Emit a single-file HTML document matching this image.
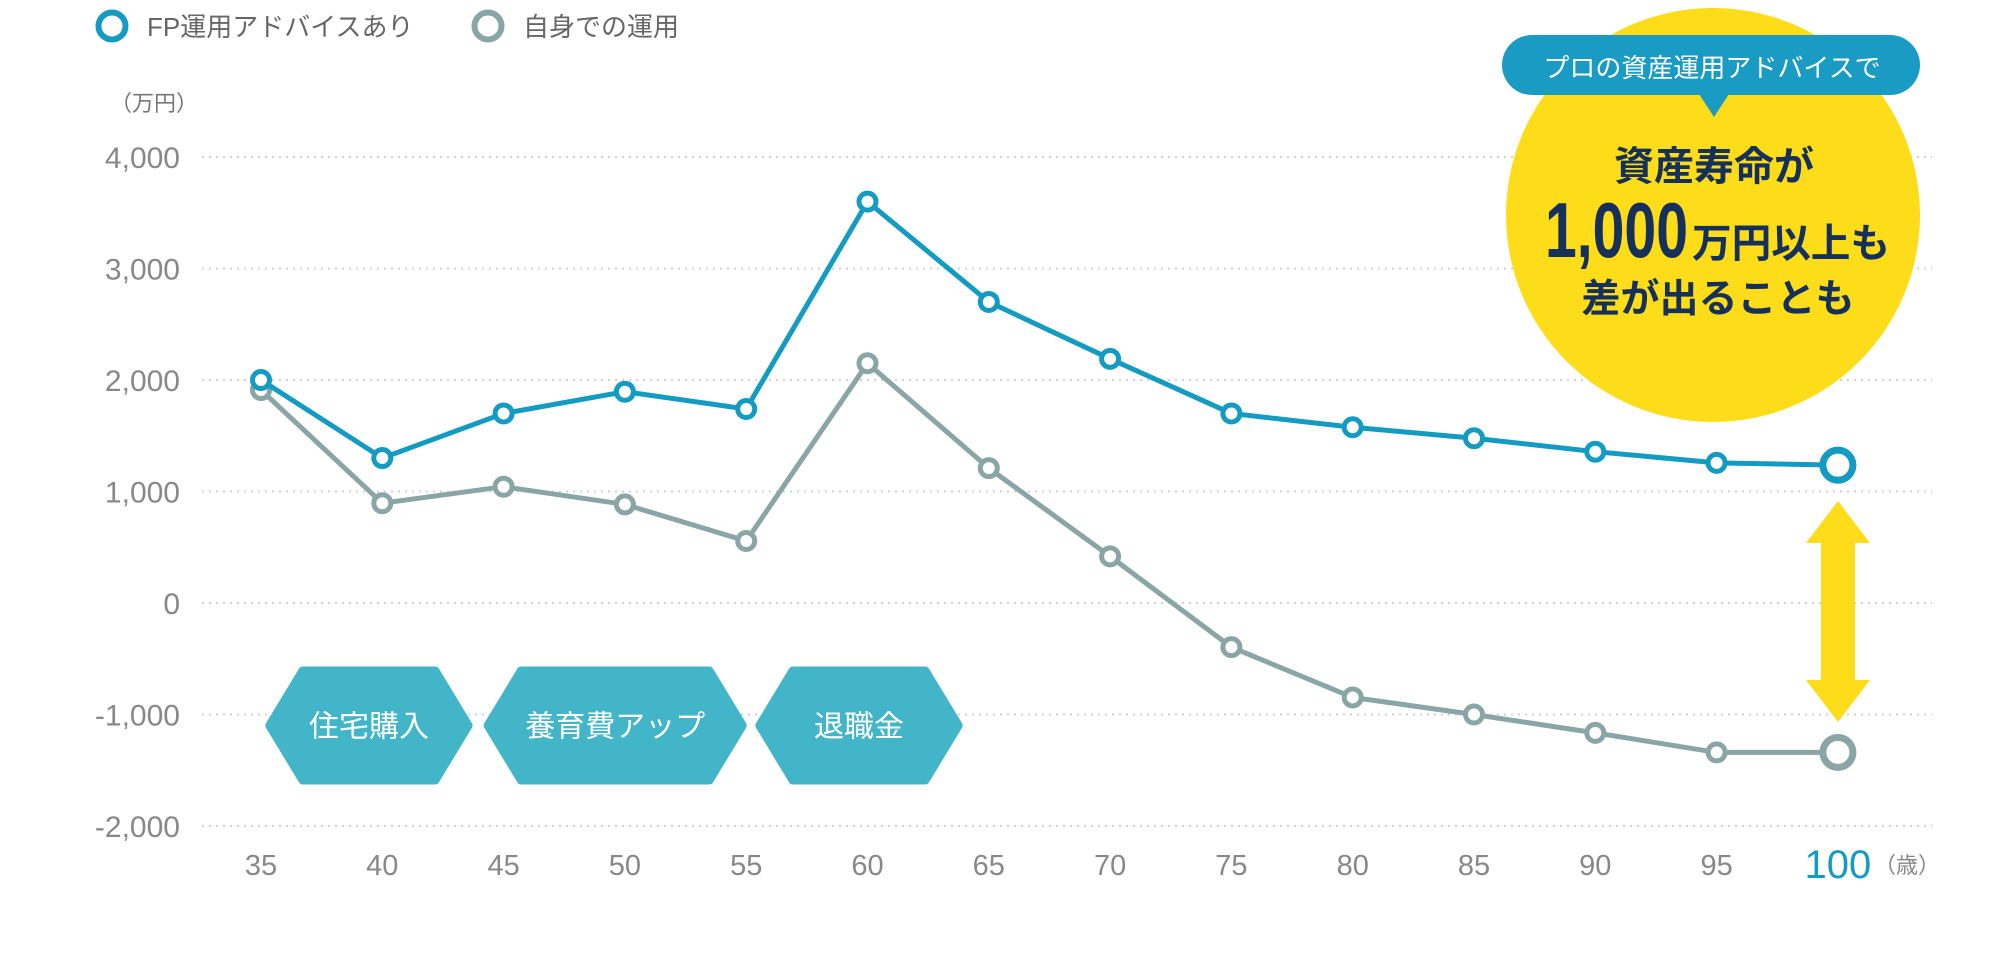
<!DOCTYPE html>
<html><head><meta charset="utf-8">
<style>
html,body{margin:0;padding:0;background:#fff;}
body{width:2015px;height:964px;overflow:hidden;font-family:"Liberation Sans","Noto Sans CJK JP",sans-serif;}
</style></head>
<body>
<svg id="chart" width="2015" height="964" viewBox="0 0 2015 964" xmlns="http://www.w3.org/2000/svg" style="font-family:'Liberation Sans','Noto Sans CJK JP',sans-serif">
<g id="legend">
  <g>
    <circle cx="112" cy="26" r="13.5" fill="#fff" stroke="#139bc2" stroke-width="6"/>
    <text x="147" y="36" font-size="26" fill="#666">FP運用アドバイスあり</text>
  </g>
  <g>
    <circle cx="488" cy="26" r="13.5" fill="#fff" stroke="#8aa5a5" stroke-width="6"/>
    <text x="523" y="36" font-size="26" fill="#666">自身での運用</text>
  </g>
</g>
<text x="110" y="111" font-size="22" fill="#777">（万円）</text>
<g id="grid"></g>
<g id="yticks"></g>
<g id="xticks"></g>
<g id="tags"></g>
<g id="callout">
  <circle cx="1713" cy="215" r="207" fill="#fddc1a"/>
  <rect x="1502" y="35" width="418" height="60" rx="30" fill="#1a9bc4"/>
  <polygon points="1699,94 1729,94 1714,117" fill="#1a9bc4"/>
  <text x="1712" y="77" font-size="26" fill="#fff" text-anchor="middle">プロの資産運用アドバイスで</text>
  <text x="1714" y="180" font-size="40" font-weight="bold" fill="#15305a" text-anchor="middle">資産寿命が</text>
  <text x="1545" y="257" font-size="78" font-weight="bold" fill="#15305a" textLength="143" lengthAdjust="spacingAndGlyphs">1,000</text>
  <text x="1692" y="257" font-size="40" font-weight="bold" fill="#15305a" textLength="198" lengthAdjust="spacingAndGlyphs">万円以上も</text>
  <text x="1718" y="312" font-size="39" font-weight="bold" fill="#15305a" text-anchor="middle">差が出ることも</text>
</g>
<polygon points="1838,501 1870,543 1855,543 1855,680 1870,680 1838,722 1806,680 1821,680 1821,543 1806,543" fill="#fddc1a"/>
<g id="series"></g>
</svg>
<script>
const ages = [35,40,45,50,55,60,65,70,75,80,85,90,95,100];
const fpValues = [2000,1300,1700,1895,1740,3600,2700,2190,1700,1576,1478,1357,1257,1236];
const selfValues = [1910,895,1043,884,556,2150,1210,418,-396,-847,-1000,-1165,-1340,-1340];
const yTicks = [4000,3000,2000,1000,0,-1000,-2000];
const yTickLabels = ["4,000","3,000","2,000","1,000","0","-1,000","-2,000"];
const tagLabels = ["住宅購入","養育費アップ","退職金"];
const tagRanges = [[35.2,43.7],[44.2,55.0],[55.4,63.9]];

const NS="http://www.w3.org/2000/svg";
const X=a=>261+(a-35)*121.3/5;
const Y=v=>603-v*0.1115;
function mk(tag,attrs,parent){const e=document.createElementNS(NS,tag);for(const k in attrs)e.setAttribute(k,attrs[k]);parent.appendChild(e);return e;}

const grid=document.getElementById('grid'),yt=document.getElementById('yticks'),xt=document.getElementById('xticks');
yTicks.forEach((v,i)=>{
  const l=mk('line',{x1:202,x2:1932,y1:Y(v),y2:Y(v),stroke:'#d0d0d0','stroke-width':2,'stroke-dasharray':'2 5'},grid);
  
  
  const t=mk('text',{x:180,y:Y(v)+11,'font-size':30,fill:'#888','text-anchor':'end'},yt);
  t.textContent=yTickLabels[i];
  
  
});
ages.forEach(a=>{
  const last=a===100;
  const t=mk('text',{x:X(a),y:last?878:875,'font-size':last?40:29,fill:last?'#139bc2':'#888','text-anchor':'middle'},xt);
  t.textContent=a;
  
  
});
const unit=mk('text',{x:1874,y:873,'font-size':22,fill:'#888'},xt);
unit.textContent='（歳）';



const tags=document.getElementById('tags');
tagLabels.forEach((lab,i)=>{
  const x1=X(tagRanges[i][0])+4,x2=X(tagRanges[i][1])-4,yt0=671,yb=780,ym=725.5,d=33;
  const g=mk('g',{},tags);
  
  
  mk('polygon',{points:`${x1},${ym} ${x1+d},${yt0} ${x2-d},${yt0} ${x2},${ym} ${x2-d},${yb} ${x1+d},${yb}`,fill:'#42b6c8',stroke:'#42b6c8','stroke-width':9,'stroke-linejoin':'round'},g);
  const t=mk('text',{x:(x1+x2)/2,y:ym+11,'font-size':30,fill:'#fff','text-anchor':'middle'},g);
  t.textContent=lab;
});

const series=document.getElementById('series');
function draw(vals,color,name){
  const g=mk('g',{},series);
  
  
  const pl=mk('polyline',{points:vals.map((v,i)=>X(ages[i])+','+Y(v)).join(' '),fill:'none',stroke:color,'stroke-width':5,'stroke-linejoin':'round'},g);
  
  
  vals.forEach((v,i)=>{
    const big=ages[i]===100;
    const c=mk('circle',{cx:X(ages[i]),cy:Y(v),r:big?15:8.5,fill:'#fff',stroke:color,'stroke-width':big?7:5},g);
    
    
  });
}
draw(selfValues,'#8aa5a5','self-series');
draw(fpValues,'#139bc2','fp-series');
</script>
</body></html>
